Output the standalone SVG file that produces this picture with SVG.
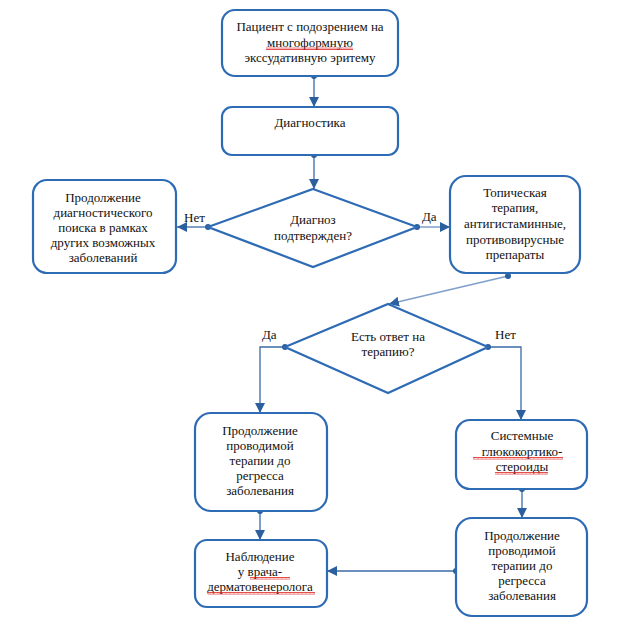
<svg xmlns="http://www.w3.org/2000/svg" width="624" height="638" viewBox="0 0 624 638">
<defs>
<style>
.box{fill:#fff;stroke:#2e6bb5;stroke-width:2.2}
.dia{fill:#fff;stroke:#2e6bb5;stroke-width:2.2}
.t{font-family:'Liberation Serif','DejaVu Serif',serif;font-size:13px;fill:#111;text-anchor:middle}
.lab{font-family:'Liberation Serif','DejaVu Serif',serif;font-size:13px;fill:#111}
.c{fill:none;stroke:#3b6ba8;stroke-width:1.3}
.cl{fill:none;stroke:#7f9fcc;stroke-width:1.4}
.dot{fill:#2c5f9e}
.sq{fill:url(#squig)}
</style>
<marker id="ah" viewBox="0 0 10 10" refX="10" refY="5" markerWidth="10" markerHeight="10" markerUnits="userSpaceOnUse" orient="auto">
<path d="M0,0 L10,5 L0,10 z" fill="#2c5f9e"/>
</marker>
<pattern id="squig" width="4" height="3" patternUnits="userSpaceOnUse">
<path d="M0,2.5 L1,0.5 L2,2.5 L3,0.5 L4,2.5" fill="none" stroke="#e02020" stroke-width="0.8"/>
</pattern>
</defs>
<rect width="624" height="638" fill="#fff"/>

<g id="connectors">
<line class="c" x1="314" y1="76" x2="314" y2="107" marker-end="url(#ah)"/>
<line class="c" x1="314" y1="155" x2="314" y2="189" marker-end="url(#ah)"/>
<line class="c" x1="208" y1="227" x2="177" y2="227" marker-end="url(#ah)"/>
<line class="cl" x1="417" y1="227" x2="450" y2="227" marker-end="url(#ah)"/>
<line class="cl" x1="508" y1="276" x2="389" y2="304" marker-end="url(#ah)"/>
<polyline class="c" points="285,347 260,347 260,413" marker-end="url(#ah)"/>
<polyline class="c" points="488,347 521,347 521,420" marker-end="url(#ah)"/>
<line class="c" x1="522" y1="489" x2="522" y2="518" marker-end="url(#ah)"/>
<line class="c" x1="260" y1="511" x2="260" y2="540" marker-end="url(#ah)"/>
<line class="c" x1="456" y1="571" x2="327" y2="571" marker-end="url(#ah)"/>
<circle class="dot" cx="314" cy="76" r="3"/>
<circle class="dot" cx="314" cy="155" r="3"/>
<circle class="dot" cx="208" cy="227" r="3"/>
<circle class="dot" cx="417" cy="227" r="3"/>
<circle class="dot" cx="508" cy="276" r="3"/>
<circle class="dot" cx="285" cy="347" r="3"/>
<circle class="dot" cx="488" cy="347" r="3"/>
<circle class="dot" cx="522" cy="489" r="3"/>
<circle class="dot" cx="260" cy="511" r="3"/>
<circle class="dot" cx="456" cy="571" r="3"/>
<text class="lab" x="184" y="222">Нет</text>
<text class="lab" x="422" y="221">Да</text>
<text class="lab" x="262" y="339">Да</text>
<text class="lab" x="495" y="339">Нет</text>
</g>

<g id="n1">
<rect class="box" x="222" y="10" width="176" height="66" rx="13"/>
<text class="t" x="310" y="31">Пациент с подозрением на</text>
<text class="t" x="310" y="47">многоформную</text>
<text class="t" x="310" y="62">экссудативную эритему</text>
<rect class="sq" x="266" y="47" width="87" height="3"/>
</g>

<g id="n2">
<rect class="box" x="222" y="107" width="176" height="48" rx="10"/>
<text class="t" x="310" y="127">Диагностика</text>
</g>

<g id="d1">
<polygon class="dia" points="313,189 417,227 313,267 208,227"/>
<text class="t" x="313" y="224">Диагноз</text>
<text class="t" x="313" y="240">подтвержден?</text>
</g>

<g id="n3">
<rect class="box" x="33" y="180" width="143" height="93" rx="14"/>
<text class="t" x="103" y="202">Продолжение</text>
<text class="t" x="103" y="217">диагностического</text>
<text class="t" x="103" y="232">поиска в рамках</text>
<text class="t" x="103" y="247">других возможных</text>
<text class="t" x="103" y="262">заболеваний</text>
</g>

<g id="n4">
<rect class="box" x="450" y="176" width="130" height="97" rx="16"/>
<text class="t" x="515" y="197">Топическая</text>
<text class="t" x="515" y="212">терапия,</text>
<text class="t" x="515" y="228">антигистаминные,</text>
<text class="t" x="515" y="244">противовирусные</text>
<text class="t" x="515" y="259">препараты</text>
</g>

<g id="d2">
<polygon class="dia" points="388,304 488,347 388,393 285,347"/>
<text class="t" x="388" y="341">Есть ответ на</text>
<text class="t" x="388" y="356">терапию?</text>
</g>

<g id="n5">
<rect class="box" x="195" y="413" width="132" height="98" rx="16"/>
<text class="t" x="260" y="435">Продолжение</text>
<text class="t" x="260" y="450">проводимой</text>
<text class="t" x="260" y="465">терапии до</text>
<text class="t" x="260" y="480">регресса</text>
<text class="t" x="260" y="495">заболевания</text>
</g>

<g id="n6">
<rect class="box" x="456" y="420" width="131" height="69" rx="14"/>
<text class="t" x="522" y="440">Системные</text>
<text class="t" x="522" y="456">глюкокортико-</text>
<text class="t" x="522" y="471">стероиды</text>
<rect class="sq" x="473" y="457" width="90" height="3"/>
<rect class="sq" x="495" y="472" width="53" height="3"/>
</g>

<g id="n7">
<rect class="box" x="456" y="518" width="131" height="98" rx="16"/>
<text class="t" x="522" y="540">Продолжение</text>
<text class="t" x="522" y="555">проводимой</text>
<text class="t" x="522" y="570">терапии до</text>
<text class="t" x="522" y="585">регресса</text>
<text class="t" x="522" y="600">заболевания</text>
</g>

<g id="n8">
<rect class="box" x="195" y="540" width="132" height="67" rx="12"/>
<text class="t" x="260" y="561">Наблюдение</text>
<text class="t" x="260" y="576">у врача-</text>
<text class="t" x="260" y="591">дерматовенеролога</text>
<rect class="sq" x="250" y="577" width="40" height="3"/>
<rect class="sq" x="208" y="592" width="107" height="3"/>
</g>
</svg>
